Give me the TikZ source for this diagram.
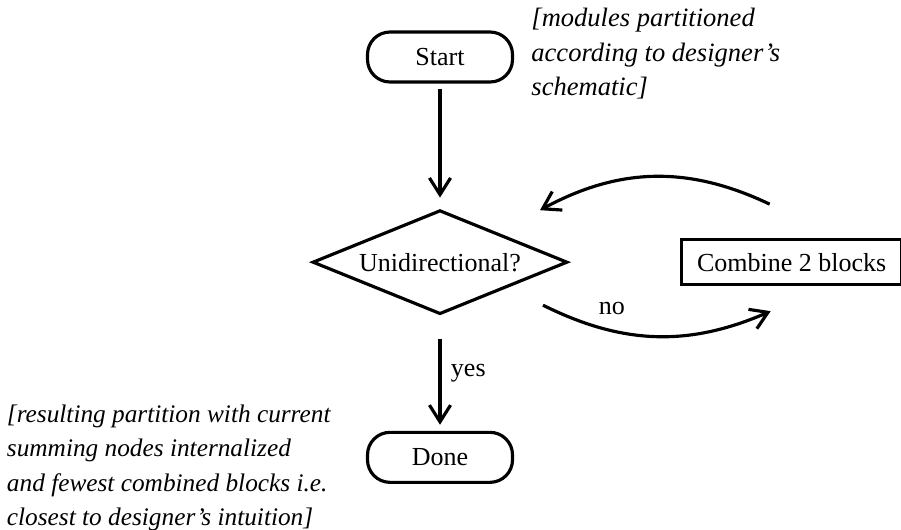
\documentclass[tikz,border=0pt]{standalone}
\usepackage{fontspec}
\setmainfont{Liberation Serif}
\usetikzlibrary{shapes.geometric, arrows.meta, positioning, calc}

\begin{document}
\begin{tikzpicture}[
    node distance=2.5cm and 2.2cm,
    every node/.style={font=\fontsize{14.8}{19.6}\selectfont},
    terminal/.style={rectangle, draw, line width=1.8pt, rounded corners=0.45cm,
                minimum width=2.9cm, minimum height=1.0cm},
    decision/.style={diamond, draw, line width=1.8pt, aspect=2.45,
                minimum width=5.1cm, minimum height=2.08cm, inner sep=1pt},
    process/.style={rectangle, draw, line width=1.8pt,
                minimum width=4.4cm, minimum height=0.9cm},
    arrow/.style={-{Straight Barb[length=9.5pt, width=12pt]}, line width=1.8pt},
    note/.style={font=\fontsize{#1}{19.6}\selectfont\itshape, align=left, inner sep=0pt},
    note/.default=14.4
]
\useasboundingbox (0,0) rectangle (18.02,-10.58);

% Flow
\node[terminal] (start) at (8.8,-1.14) {Start};
\node[decision, below=2.5cm of start] (test) {Unidirectional?};
\node[terminal, below=2.3cm of test] (done) {Done};
\node[process, right=2.22cm of test] (combine) {Combine 2 blocks};

% Arrows
\draw[arrow, shorten <=0.1cm, shorten >=0.22cm] (start) -- (test);
\draw[arrow, shorten <=0.46cm, shorten >=0.12cm] (test) -- (done)
    node[midway, right=2pt] {yes};
\draw[arrow] ($(test)+(2.06,-0.86)$) to[bend right=25]
    node[pos=0.3, above=5pt] {no} ($(combine)+(-0.42,-0.98)$);
\draw[arrow] ($(combine)+(-0.44,1.16)$) to[bend right=27] ($(test)+(2.0,1.04)$);

% Notes
\node[note=15.1, anchor=west] (startnote) at ($(start.east)+(0.34,0.06)$)
    {[modules partitioned\\according to designer's\\schematic]};
\node[note, anchor=east] (donenote) at ($(done.west)+(-0.7,-0.21)$)
    {[resulting partition with current\\summing nodes internalized\\and fewest combined blocks i.e.\\closest to designer's intuition]};

\end{tikzpicture}
\end{document}
